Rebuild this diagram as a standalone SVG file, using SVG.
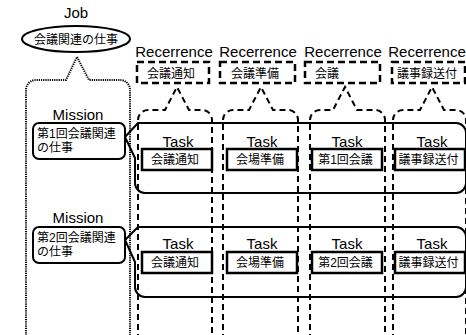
<svg xmlns="http://www.w3.org/2000/svg" width="466" height="335" viewBox="0 0 466 335">
<style>
.t{font-family:"Liberation Sans","Noto Sans CJK JP",sans-serif;fill:#000}
.en{font-size:15px;text-anchor:middle}
.jp{font-size:12px}
.jc{font-size:12px;text-anchor:middle}
.dot{fill:none;stroke:#000;stroke-width:2;stroke-dasharray:1.2 1}
.dash{fill:none;stroke:#000;stroke-width:2;stroke-dasharray:6 4}
.lbl{fill:#fff;stroke:#000;stroke-width:2.5;stroke-dasharray:7 4}
.row{fill:none;stroke:#000;stroke-width:2;stroke-linejoin:round}
.tb{fill:#fff;stroke:#000;stroke-width:2.5}
.mb{fill:#fff;stroke:#000;stroke-width:2}
</style>
<rect width="466" height="335" fill="#fff"/>

<g id="columns">
  <path class="dash" d="M138,340 V120 A10,10 0 0 1 148,110 H165 L177,87 L189,110 H202 A10,10 0 0 1 212,120 V340"/>
  <path class="dash" d="M223,340 V120 A10,10 0 0 1 233,110 H249 L261,87 L273,110 H288 A10,10 0 0 1 298,120 V340"/>
  <path class="dash" d="M310,340 V120 A10,10 0 0 1 320,110 H333 L345,87 L357,110 H375 A10,10 0 0 1 385,120 V340"/>
  <path class="dash" d="M393,340 V120 A10,10 0 0 1 403,110 H420 L432,87 L444,110 H456 A10,10 0 0 1 466,120 V340"/>
</g>

<g id="mission-callout">
  <path class="dot" d="M26,340 V90 A10,10 0 0 1 36,80 H66 L77,57 L89,80 H120 A10,10 0 0 1 130,90 V340"/>
</g>

<g id="job">
  <text class="t en" x="76" y="18">Job</text>
  <ellipse cx="76" cy="39" rx="54" ry="13" fill="#fff" stroke="#000" stroke-width="2"/>
  <text class="t jc" x="76" y="43.5">会議関連の仕事</text>
</g>

<g id="rec1">
  <text class="t en" x="174" y="57">Recerrence</text>
  <rect class="lbl" x="137" y="62" width="72" height="21"/>
  <text class="t jp" x="147" y="77.5">会議通知</text>
</g>
<g id="rec2">
  <text class="t en" x="258" y="57">Recerrence</text>
  <rect class="lbl" x="220" y="62" width="75" height="21"/>
  <text class="t jp" x="231" y="77.5">会議準備</text>
</g>
<g id="rec3">
  <text class="t en" x="343" y="57">Recerrence</text>
  <rect class="lbl" x="305" y="62" width="75" height="21"/>
  <text class="t jp" x="315" y="77.5">会議</text>
</g>
<g id="rec4">
  <text class="t en" x="427" y="57">Recerrence</text>
  <rect class="lbl" x="392" y="62" width="73" height="21"/>
  <text class="t jp" x="397" y="77.5">議事録送付</text>
</g>

<g id="row1">
  <path class="row" d="M138,123 H456 A10,10 0 0 1 466,133 V183 A10,10 0 0 1 456,193 H145 A10,10 0 0 1 135,183 V158 L125,137 Z"/>
</g>
<g id="row2">
  <path class="row" d="M138,227 H456 A10,10 0 0 1 466,237 V287 A10,10 0 0 1 456,297 H145 A10,10 0 0 1 135,287 V262 L125,240 Z"/>
</g>

<g id="mission1">
  <text class="t en" x="78" y="120">Mission</text>
  <rect class="mb" x="33" y="123" width="92" height="36" rx="6"/>
  <text class="t jp" x="37" y="137.5">第1回会議関連</text>
  <text class="t jp" x="37" y="152">の仕事</text>
</g>
<g id="mission2">
  <text class="t en" x="78" y="223">Mission</text>
  <rect class="mb" x="33" y="227" width="92" height="36" rx="6"/>
  <text class="t jp" x="37" y="241.5">第2回会議関連</text>
  <text class="t jp" x="37" y="256">の仕事</text>
</g>

<g id="task1-1">
  <text class="t en" x="178" y="147">Task</text>
  <rect class="tb" x="142" y="149" width="70" height="21"/>
  <text class="t jc" x="175" y="164">会議通知</text>
</g>
<g id="task1-2">
  <text class="t en" x="262" y="147">Task</text>
  <rect class="tb" x="227" y="149" width="70" height="21"/>
  <text class="t jc" x="260" y="164">会場準備</text>
</g>
<g id="task1-3">
  <text class="t en" x="347" y="147">Task</text>
  <rect class="tb" x="312" y="149" width="70" height="21"/>
  <text class="t jc" x="345.5" y="164">第1回会議</text>
</g>
<g id="task1-4">
  <text class="t en" x="432" y="147">Task</text>
  <rect class="tb" x="395" y="149" width="70" height="21"/>
  <text class="t jc" x="428.5" y="164">議事録送付</text>
</g>

<g id="task2-1">
  <text class="t en" x="178" y="249">Task</text>
  <rect class="tb" x="142" y="252" width="70" height="21"/>
  <text class="t jc" x="175" y="267">会議通知</text>
</g>
<g id="task2-2">
  <text class="t en" x="262" y="249">Task</text>
  <rect class="tb" x="227" y="252" width="70" height="21"/>
  <text class="t jc" x="260" y="267">会場準備</text>
</g>
<g id="task2-3">
  <text class="t en" x="347" y="249">Task</text>
  <rect class="tb" x="312" y="252" width="70" height="21"/>
  <text class="t jc" x="345.5" y="267">第2回会議</text>
</g>
<g id="task2-4">
  <text class="t en" x="432" y="249">Task</text>
  <rect class="tb" x="395" y="252" width="70" height="21"/>
  <text class="t jc" x="428.5" y="267">議事録送付</text>
</g>
</svg>
